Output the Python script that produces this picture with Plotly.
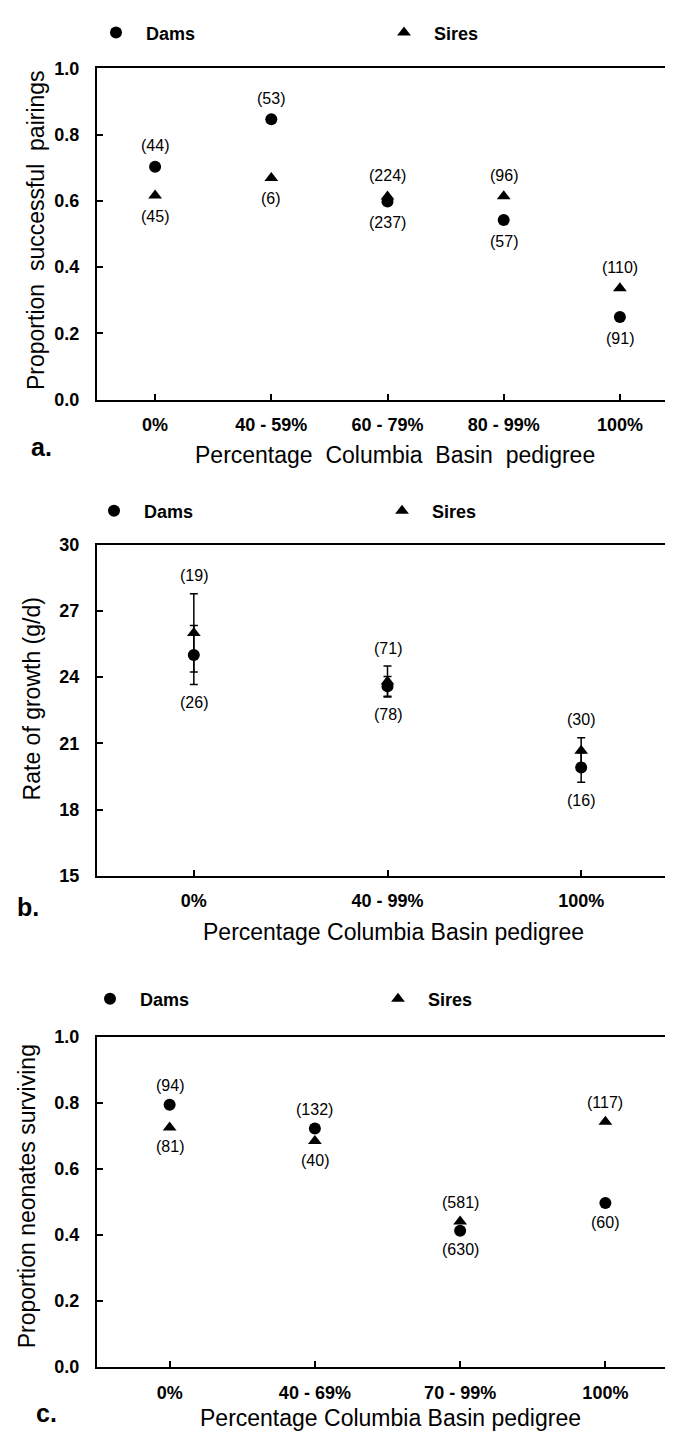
import plotly.graph_objects as go

W, H = 673, 1437

# ---------------- data ----------------
cats_a = ["0%", "40 - 59%", "60 - 79%", "80 - 99%", "100%"]
dams_a = [0.703, 0.846, 0.598, 0.542, 0.249]
sires_a = [0.616, 0.669, 0.613, 0.614, 0.336]
dams_a_n = [44, 53, 237, 57, 91]
sires_a_n = [45, 6, 224, 96, 110]

cats_b = ["0%", "40 - 99%", "100%"]
dams_b = [25.0, 23.58, 19.91]
dams_b_err = [1.34, 0.45, 0.67]
sires_b = [26.0, 23.8, 20.67]
sires_b_err = [1.77, 0.7, 0.58]
dams_b_n = [26, 78, 16]
sires_b_n = [19, 71, 30]

cats_c = ["0%", "40 - 69%", "70 - 99%", "100%"]
dams_c = [0.794, 0.722, 0.412, 0.496]
sires_c = [0.725, 0.684, 0.44, 0.742]
dams_c_n = [94, 132, 630, 60]
sires_c_n = [81, 40, 581, 117]

y_titles = ["Proportion\u00a0 successful\u00a0 pairings", "Rate of growth (g/d)",
            "Proportion neonates surviving"]
x_titles = ["Percentage\u00a0 Columbia\u00a0 Basin\u00a0 pedigree",
            "Percentage Columbia Basin pedigree",
            "Percentage Columbia Basin pedigree"]
panel_letters = ["a.", "b.", "c."]

FONT = "Liberation Sans, Arial, Helvetica, sans-serif"


def py(p):
    return 1 - p / H


def pxx(p):
    return p / W


panels = [
    dict(cats=cats_a, dams=dams_a, sires=sires_a, de=None, se=None,
         dn=dams_a_n, sn=sires_a_n, top=51, bot=387, yr=[0, 1.0],
         tv=[0, 0.2, 0.4, 0.6, 0.8, 1.0], fmt="{:.1f}", leg_y=15, leg_x=88,
         ytx=28, yty=215, xtx=387, xty=443, lx=33, ly=435, shift=21),
    dict(cats=cats_b, dams=dams_b, sires=sires_b, de=dams_b_err, se=sires_b_err,
         dn=dams_b_n, sn=sires_b_n, top=534, bot=870, yr=[15, 30],
         tv=[15, 18, 21, 24, 27, 30], fmt="{:d}", leg_y=500, leg_x=86,
         ytx=24, yty=691, xtx=385, xty=927, lx=20, ly=902, shift=18),
    dict(cats=cats_c, dams=dams_c, sires=sires_c, de=None, se=None,
         dn=dams_c_n, sn=sires_c_n, top=1033, bot=1368, yr=[0, 1.0],
         tv=[0, 0.2, 0.4, 0.6, 0.8, 1.0], fmt="{:.1f}", leg_y=995, leg_x=82,
         ytx=19, yty=1195, xtx=382, xty=1420, lx=38, ly=1415, shift=19),
]

fig = go.Figure()
annotations = []
layout = {}

for i, p in enumerate(panels):
    k = "" if i == 0 else str(i + 1)
    xa, ya = "x" + k, "y" + k
    leg = "legend" + k
    show = True
    err_d = dict(type="data", array=p["de"], color="black", thickness=1.5, width=4) if p["de"] else None
    err_s = dict(type="data", array=p["se"], color="black", thickness=1.5, width=4) if p["se"] else None
    fig.add_trace(go.Scatter(
        x=p["cats"], y=p["dams"], mode="markers", name="\u00a0\u00a0Dams",
        marker=dict(symbol="circle", size=12, color="black"),
        error_y=err_d, xaxis=xa, yaxis=ya, legend=leg, showlegend=show))
    fig.add_trace(go.Scatter(
        x=p["cats"], y=p["sires"], mode="markers", name="\u00a0\u00a0Sires",
        marker=dict(symbol="triangle-up", size=12, color="black"),
        error_y=err_s, xaxis=xa, yaxis=ya, legend=leg, showlegend=show))

    n = len(p["cats"])
    layout["xaxis" + k] = dict(
        domain=[pxx(89), pxx(670)], anchor=ya, type="category",
        range=[-0.5, n - 0.5], showline=True, mirror=True, linewidth=2,
        linecolor="black", ticks="inside", ticklen=6, tickwidth=2,
        tickcolor="black", showgrid=False, zeroline=False,
        tickfont=dict(family=FONT, size=18, color="black", weight="bold"),
        ticklabelstandoff=8)
    layout["yaxis" + k] = dict(
        domain=[py(p["bot"]), py(p["top"])], anchor=xa, range=p["yr"],
        tickvals=p["tv"], ticktext=[p["fmt"].format(v) for v in p["tv"]],
        showline=True, mirror=True, linewidth=2, linecolor="black",
        ticks="inside", ticklen=6, tickwidth=2, tickcolor="black",
        showgrid=False, zeroline=False,
        tickfont=dict(family=FONT, size=18, color="black", weight="bold"),
        ticklabelstandoff=12)
    layout[leg] = dict(
        x=pxx(p["leg_x"]), y=py(p["leg_y"]), xanchor="left", yanchor="middle",
        orientation="h", entrywidth=243, entrywidthmode="pixels",
        font=dict(family=FONT, size=18, color="black", weight="bold"),
        bgcolor="rgba(0,0,0,0)", borderwidth=0, tracegroupgap=0)

    # sample-size labels
    for j in range(n):
        d_hi = p["dams"][j] + (p["de"][j] if p["de"] else 0)
        d_lo = p["dams"][j] - (p["de"][j] if p["de"] else 0)
        s_hi = p["sires"][j] + (p["se"][j] if p["se"] else 0)
        s_lo = p["sires"][j] - (p["se"][j] if p["se"] else 0)
        if p["dams"][j] >= p["sires"][j]:
            top_lbl, top_y = p["dn"][j], max(d_hi, s_hi)
            bot_lbl, bot_y = p["sn"][j], min(d_lo, s_lo)
        else:
            top_lbl, top_y = p["sn"][j], max(d_hi, s_hi)
            bot_lbl, bot_y = p["dn"][j], min(d_lo, s_lo)
        for lbl, yy, sh in ((top_lbl, top_y, p["shift"]), (bot_lbl, bot_y, -p["shift"])):
            annotations.append(dict(
                x=p["cats"][j], y=yy, xref=xa, yref=ya, text=f"({lbl})",
                showarrow=False, yshift=sh,
                font=dict(family=FONT, size=16, color="black")))

    annotations.append(dict(
        x=pxx(p["ytx"]), y=py(p["yty"]), xref="paper", yref="paper",
        text=y_titles[i], textangle=-90, showarrow=False,
        xanchor="center", yanchor="middle",
        font=dict(family=FONT, size=23, color="black")))
    annotations.append(dict(
        x=pxx(p["xtx"]), y=py(p["xty"]), xref="paper", yref="paper",
        text=x_titles[i], showarrow=False, xanchor="center", yanchor="middle",
        font=dict(family=FONT, size=23, color="black")))
    annotations.append(dict(
        x=pxx(p["lx"]), y=py(p["ly"]), xref="paper", yref="paper",
        text=panel_letters[i], showarrow=False, xanchor="center", yanchor="middle",
        font=dict(family=FONT, size=25, color="black", weight="bold")))

fig.update_layout(
    width=W, height=H, margin=dict(l=0, r=0, t=0, b=0),
    paper_bgcolor="white", plot_bgcolor="white",
    annotations=annotations, **layout)

fig.write_html("out.html")
